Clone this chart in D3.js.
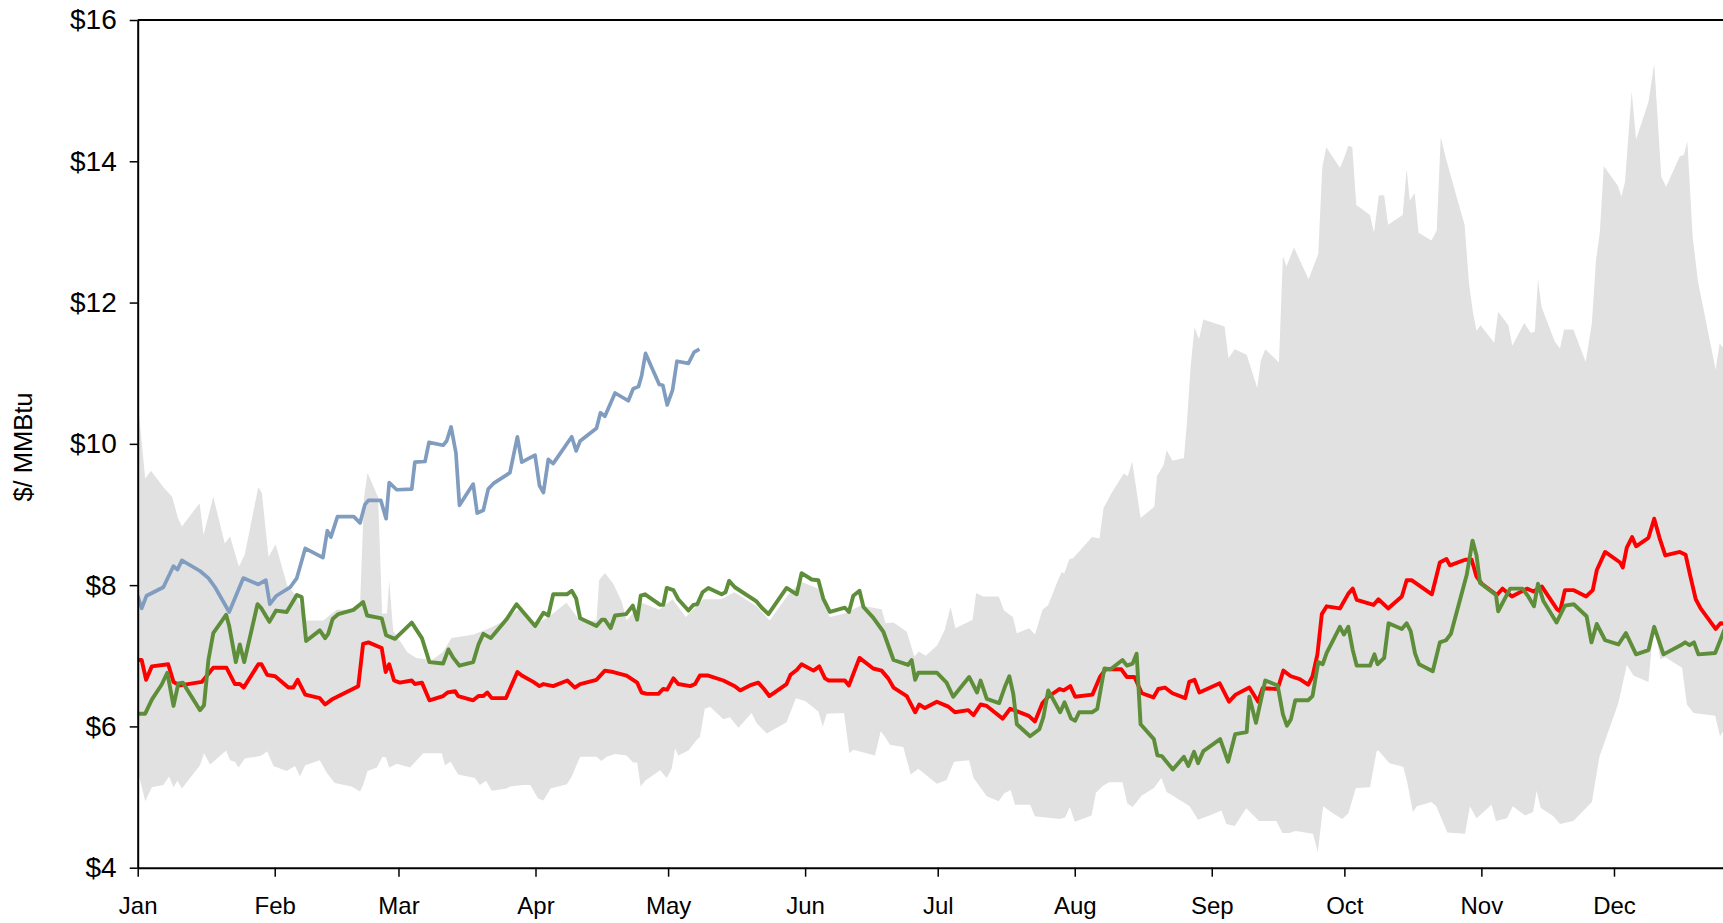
<!DOCTYPE html>
<html lang="en">
<head>
<meta charset="UTF-8">
<title>$/ MMBtu</title>
<script src="https://cdnjs.cloudflare.com/ajax/libs/d3/7.8.5/d3.min.js"></script>
<style>
    body { margin: 0; padding: 0; background: #ffffff; overflow: hidden; }
    #chart { width: 1723px; height: 923px; }
    text { font-family: "Liberation Sans", Arial, sans-serif; fill: #000; }
</style>
</head>
<body>
<div id="chart"></div>
<script>
// month ticks (day of year of each month start)
const monthNames = ["Jan", "Feb", "Mar", "Apr", "May", "Jun", "Jul", "Aug", "Sep", "Oct", "Nov", "Dec"];
const monthDays = [0, 31, 59, 90, 120, 151, 181, 212, 243, 273, 304, 334];
const yTicks = [4, 6, 8, 10, 12, 14, 16];

// historical range, upper edge [day, $]
const rangeHigh = [[0,10.6],[1.7,9.51],[3,9.62],[6,9.37],[7.8,9.25],[9.1,8.95],[10,8.83],[14,9.16],[14.9,8.71],[17.1,9.25],
  [19.7,8.59],[20.9,8.69],[22.9,8.26],[24.2,8.43],[27.3,9.39],[28.1,9.3],[29.6,8.4],[31.2,8.58],[33.8,8.0],[36,7.84],
  [38,7.5],[42,7.5],[45,7.65],[48,7.65],[50.3,7.7],[51.2,9.24],[52,9.59],[54.4,9.24],[55.3,7.6],[56.4,7.6],[56.9,8.07],
  [57.8,7.35],[58.9,7.25],[61,7.05],[63,6.97],[66.6,6.94],[69,7.05],[71,7.25],[74,7.28],[76,7.3],[78,7.35],[80,7.4],
  [83,7.5],[86,7.65],[90,7.45],[93,7.55],[97,7.75],[100,7.5],[103.8,7.5],[104.4,8.07],[105.7,8.17],[107.6,8.02],[109.5,7.77],
  [110.6,7.5],[114,7.75],[118,7.65],[121,7.8],[124,7.55],[128,7.8],[132,7.8],[135,7.9],[140,7.7],[143,7.5],[147,7.85],
  [150,8.05],[154,7.95],[156.6,7.55],[160,7.6],[163.6,7.71],[168.3,7.66],[169.2,7.46],[171,7.47],[174,7.34],[175.7,6.99],
  [176.7,7.06],[178.3,7.0],[180.9,7.15],[182.6,7.37],[183.9,7.69],[185,7.39],[188.9,7.51],[189.7,7.89],[191.3,7.84],
  [194.8,7.84],[196,7.64],[198,7.55],[198.9,7.32],[201.7,7.39],[203,7.3],[204.7,7.65],[206,7.72],[208.2,8.07],[209.1,8.19],
  [209.6,8.16],[210.8,8.37],[211.6,8.38],[212.9,8.47],[215.9,8.68],[217.6,8.66],[218.5,9.09],[220.3,9.3],[223.1,9.58],
  [224,9.54],[225,9.75],[226.9,8.95],[230,9.11],[230.6,9.54],[232.1,9.7],[232.8,9.91],[234.1,9.76],[236.7,9.8],[237.4,10.31],
  [238.2,11.08],[239.1,11.65],[240.1,11.48],[241.1,11.76],[245.9,11.66],[246.8,11.21],[248.2,11.34],[250.9,11.26],
  [253.3,10.79],[254.1,11.18],[255.1,11.34],[258.2,11.15],[259.1,12.66],[259.9,12.51],[261.6,12.78],[264.9,12.33],
  [267.1,12.69],[268,13.91],[268.9,14.2],[272,13.91],[272.9,14.04],[273.9,14.22],[274.8,14.2],[275.7,13.38],[278.8,13.24],
  [279.7,12.99],[280.8,13.52],[282,13.52],[282.9,13.1],[286.2,13.24],[287.1,13.89],[287.8,13.44],[288.9,13.55],[289.8,12.99],
  [292.7,12.88],[293.9,13.02],[294.8,14.34],[295.9,14.06],[298.2,13.54],[300.2,13.1],[301.2,12.27],[302.1,11.86],
  [302.9,11.6],[303.8,11.68],[306.9,11.43],[307.8,11.87],[310.1,11.68],[311,11.39],[313.7,11.71],[315.2,11.57],[316.1,11.59],
  [316.8,12.33],[317.6,11.94],[320.6,11.45],[321.8,11.35],[322.7,11.62],[324.8,11.62],[327.6,11.16],[329,11.71],
  [329.9,12.58],[330.8,13.0],[331.7,13.93],[334.8,13.66],[335.7,13.5],[336.5,13.71],[338,14.99],[339,14.31],[341.8,14.84],
  [343.1,15.38],[344.7,13.78],[345.8,13.64],[348.9,14.07],[349.8,14.09],[350.6,14.28],[351.8,12.93],[353,12.3],
  [357,11.05],[357.9,11.42],[359.5,11.3]];

// historical range, lower edge [day, $]
const rangeLow = [[0,5.38],[1.7,4.94],[3.2,5.14],[5.8,5.17],[7.1,5.29],[8.1,5.14],[9,5.23],[10,5.12],[14.1,5.45],[15,5.62],
  [16.4,5.46],[20,5.66],[20.9,5.52],[22,5.5],[22.8,5.42],[24.3,5.55],[26.9,5.57],[28,5.59],[29.3,5.65],[30.7,5.44],
  [33.7,5.37],[35.6,5.44],[36.7,5.29],[37.9,5.45],[41.2,5.52],[42.8,5.34],[44.6,5.2],[48.4,5.15],[50.3,5.08],[51,5.17],
  [52,5.37],[54.1,5.42],[55.4,5.57],[56.2,5.56],[56.9,5.42],[58.6,5.47],[61.6,5.42],[64.6,5.62],[66.5,5.62],[68.8,5.62],
  [69.5,5.45],[70.8,5.5],[72.5,5.32],[76.3,5.27],[77.4,5.17],[78.8,5.23],[80.1,5.09],[83.5,5.12],[84.2,5.15],[87.2,5.17],
  [88.8,5.17],[90.6,4.98],[91.8,4.95],[93.4,5.12],[97.1,5.18],[98.2,5.29],[99.2,5.44],[100.1,5.57],[103.8,5.57],[104.9,5.51],
  [106.1,5.57],[108,5.61],[110.6,5.59],[112.1,5.49],[113,5.49],[113.8,5.15],[114.8,5.23],[118.2,5.38],[119.7,5.27],
  [120.8,5.4],[121.6,5.69],[122.3,5.59],[124.6,5.66],[126.5,5.81],[127.2,5.85],[128.3,6.25],[129.5,6.28],[132.5,6.1],
  [134,6.13],[135.9,5.98],[138.9,6.19],[140,6.05],[142.3,5.9],[146.8,6.06],[148.9,6.4],[151,6.36],[154,6.21],[155,6.0],
  [155.9,6.18],[159.8,6.19],[161,5.62],[161.9,5.67],[166.8,5.59],[168.1,5.93],[169.1,5.85],[170.2,5.74],[173.2,5.71],
  [174.9,5.32],[176.6,5.4],[180.8,5.19],[183,5.24],[184.7,5.5],[188.1,5.52],[189.1,5.27],[192.1,5.01],[194.8,4.94],
  [196,5.05],[197.5,5.1],[198.5,4.89],[201.9,4.89],[203,4.73],[208.6,4.69],[209.8,4.71],[210.9,4.86],[212,4.65],
  [215.8,4.74],[216.8,5.06],[218.4,5.16],[219.8,5.21],[222.8,5.21],[223.9,4.91],[225.1,4.86],[226,4.93],[227.1,5.02],
  [229.9,5.13],[231.6,5.27],[232.8,5.07],[236.5,4.93],[238,4.87],[239.9,4.68],[242.9,4.75],[245.2,4.81],[246.3,4.62],
  [248.2,4.59],[250.8,4.84],[253.7,4.66],[257.6,4.66],[259,4.49],[260.5,4.49],[262,4.52],[264.8,4.49],[265.9,4.48],
  [267,4.22],[268.2,4.87],[270.4,4.77],[272.5,4.69],[273.9,4.77],[275.6,5.13],[278.8,5.14],[280.3,5.65],[280.7,5.66],
  [283.2,5.48],[286.3,5.43],[287.2,5.22],[288.5,4.79],[289.4,4.87],[292.7,4.93],[293.8,4.87],[296.3,4.5],[300.3,4.48],
  [301.4,4.87],[302.9,4.7],[306.3,4.89],[307.3,4.66],[309.8,4.7],[311.1,4.87],[313.9,4.74],[315.7,4.79],[316.5,5.09],
  [317.4,4.85],[320.3,4.73],[321.8,4.62],[324.8,4.66],[329,4.93],[330.7,5.57],[335,6.33],[336.9,6.87],[338.4,6.72],
  [341.8,6.63],[342.5,7.11],[343.1,7.41],[344.5,6.95],[345.6,6.98],[349.4,6.83],[350.5,6.31],[352,6.19],[356.9,6.15],
  [358,5.86],[359.5,6.02]];

// red line [day, $]
const redSeries = [[0,6.94],[0.9,6.94],[1.9,6.66],[3.2,6.85],[6.9,6.88],[8.1,6.63],[9.6,6.58],[14.5,6.63],[17.1,6.83],
  [20.1,6.83],[22,6.6],[23.1,6.6],[24,6.55],[27.3,6.88],[28,6.88],[29.3,6.73],[31.1,6.71],[34.1,6.55],[35.2,6.55],[36.2,6.66],
  [37.9,6.45],[41.2,6.4],[42.4,6.31],[43.9,6.38],[49.9,6.57],[51,7.17],[52.2,7.19],[55.2,7.11],[56.1,6.77],[56.9,6.88],
  [58,6.65],[59.3,6.62],[62,6.65],[62.7,6.6],[64.3,6.62],[66,6.37],[69.1,6.43],[70.1,6.48],[71.8,6.5],[72.5,6.43],
  [75.9,6.37],[77.1,6.43],[78.2,6.43],[79.1,6.48],[80.1,6.4],[83.3,6.4],[85.9,6.77],[86.9,6.72],[89.5,6.63],[90.9,6.57],
  [91.8,6.6],[94,6.57],[97.2,6.65],[98.9,6.55],[100.1,6.6],[103.8,6.66],[105.7,6.79],[107.6,6.77],[110.6,6.72],[113,6.62],
  [114,6.48],[115.2,6.46],[117.8,6.46],[118.9,6.53],[119.8,6.52],[121.2,6.68],[122.3,6.6],[125,6.57],[126.1,6.6],
  [127.2,6.72],[129.1,6.72],[132.5,6.65],[135.1,6.57],[136.3,6.51],[138.5,6.58],[140.4,6.62],[141.7,6.53],[142.9,6.43],
  [146.8,6.6],[147.7,6.73],[149.1,6.8],[150.2,6.88],[152.9,6.79],[154.2,6.85],[155.5,6.68],[156.3,6.65],[160,6.65],
  [160.9,6.58],[163.3,6.97],[166.4,6.82],[168.3,6.79],[169.8,6.68],[171,6.55],[174,6.43],[175.9,6.2],[176.8,6.31],
  [178.1,6.26],[180.8,6.35],[183.4,6.28],[184.9,6.2],[187.9,6.23],[189.1,6.16],[190.7,6.31],[192.1,6.29],[194.3,6.18],
  [195.7,6.11],[197.4,6.25],[201.6,6.15],[203,6.07],[204.7,6.33],[206,6.42],[208.6,6.53],[209.5,6.51],[211,6.57],
  [212.1,6.42],[216,6.45],[217.7,6.7],[219,6.81],[222.5,6.81],[223.8,6.7],[225.5,6.7],[227.2,6.47],[229.8,6.41],
  [230.9,6.53],[232.4,6.55],[234.1,6.47],[237,6.4],[237.9,6.63],[239.1,6.66],[240.2,6.48],[244.8,6.61],[246.9,6.35],
  [248.4,6.45],[251.5,6.55],[253.5,6.35],[254.5,6.54],[257.9,6.53],[259.2,6.79],[260.9,6.71],[262.9,6.67],[264.8,6.59],
  [265.8,6.71],[266.9,7.02],[267.9,7.59],[269,7.7],[272,7.67],[273.9,7.88],[274.9,7.95],[275.8,7.79],[279.6,7.72],
  [280.7,7.8],[282.9,7.67],[286,7.84],[287.1,8.07],[288.2,8.07],[292.8,7.87],[294.6,8.32],[296.1,8.37],[296.9,8.28],
  [300.3,8.36],[301.8,8.36],[302.9,8.12],[304.1,8.02],[307.5,7.86],[308.8,7.95],[310.9,7.84],[314.3,7.95],[315.8,7.91],
  [317.7,7.98],[321.1,7.66],[321.8,7.63],[322.9,7.93],[324.8,7.93],[327.7,7.84],[329.2,7.93],[330.1,8.21],[332,8.47],
  [335.4,8.32],[336,8.25],[336.9,8.53],[338.1,8.68],[339,8.55],[341.8,8.67],[343.1,8.94],[344.3,8.67],[345.6,8.42],
  [348.9,8.47],[350.2,8.43],[351.3,8.12],[352.5,7.8],[353.6,7.67],[357,7.38],[358.1,7.46],[359.5,7.45]];

// green line [day, $]
const greenSeries = [[0,6.18],[1.7,6.18],[3.2,6.38],[5.4,6.59],[6.7,6.76],[8.1,6.29],[9.2,6.61],[10.2,6.62],[14.1,6.23],
  [15,6.3],[16,6.94],[17.1,7.32],[20,7.58],[20.7,7.42],[22.2,6.91],[23.1,7.16],[24.1,6.91],[27.1,7.73],[28,7.67],
  [29.8,7.48],[31.3,7.64],[33.7,7.62],[36,7.86],[37.1,7.83],[38.1,7.21],[41.2,7.36],[42.4,7.25],[43.1,7.31],[44.1,7.52],
  [45.4,7.59],[48.8,7.65],[51,7.76],[51.9,7.57],[55.2,7.53],[56.2,7.29],[58.2,7.24],[62,7.47],[64.3,7.25],[66,6.91],
  [69.1,6.89],[70.3,7.09],[71.4,6.97],[72.8,6.86],[75.9,6.91],[77.1,7.16],[78.2,7.31],[79.9,7.25],[83.5,7.52],[85.7,7.73],
  [89.9,7.42],[91.8,7.61],[92.9,7.57],[94,7.87],[97.1,7.87],[98.2,7.92],[99.2,7.81],[100.1,7.53],[103.8,7.42],[105,7.51],
  [105.7,7.51],[107,7.39],[108,7.57],[110.5,7.59],[112,7.71],[113,7.51],[113.8,7.85],[114.8,7.87],[118.2,7.72],[118.9,7.72],
  [119.7,7.96],[121.2,7.93],[122.3,7.8],[124.6,7.64],[125.7,7.72],[126.6,7.73],[127.8,7.9],[129.1,7.96],[132.1,7.87],
  [133,7.9],[133.8,8.06],[135.1,7.97],[140,7.77],[141.2,7.68],[142.7,7.59],[146.8,7.96],[149.1,7.87],[150.2,8.17],
  [152.5,8.08],[154,8.07],[155.1,7.81],[156.6,7.62],[160,7.68],[160.9,7.62],[161.9,7.85],[163.3,7.92],[164.2,7.69],
  [166.4,7.54],[168.7,7.34],[171,6.94],[174.3,6.87],[175.1,6.94],[175.9,6.66],[176.6,6.76],[180.8,6.76],[183,6.62],
  [184.5,6.42],[188.1,6.7],[189.9,6.48],[190.7,6.65],[192.1,6.39],[194.9,6.33],[196.2,6.56],[197.2,6.71],[198.1,6.46],
  [198.9,6.03],[201.9,5.86],[204,5.96],[204.9,6.13],[206,6.51],[208.7,6.2],[209.7,6.34],[211.2,6.11],[212.1,6.08],
  [213,6.2],[215.9,6.2],[217.1,6.25],[218.7,6.82],[220.1,6.81],[222.8,6.94],[223.8,6.86],[225.1,6.89],[226,7.03],
  [226.9,6.03],[229.9,5.82],[230.7,5.59],[231.7,5.58],[234.2,5.39],[236.7,5.57],[237.7,5.44],[239,5.64],[239.9,5.48],
  [241.1,5.65],[244.9,5.82],[246.7,5.5],[248.3,5.89],[250.9,5.92],[251.5,6.42],[253,6.05],[255.1,6.65],[257.9,6.58],
  [259.1,6.17],[260,6.01],[260.9,6.1],[261.9,6.37],[264.8,6.37],[265.8,6.43],[267.1,6.91],[268.1,6.88],[269,7.04],
  [272,7.41],[272.9,7.3],[273.9,7.41],[274.9,7.08],[275.8,6.86],[278.8,6.86],[279.8,7.02],[280.5,6.88],[282,6.97],
  [283,7.46],[286,7.38],[287.1,7.46],[288,7.35],[289,7.03],[289.9,6.88],[293,6.78],[294.6,7.19],[296,7.22],[297.1,7.31],
  [300.7,8.15],[302,8.63],[302.9,8.42],[303.7,8.03],[307.3,7.86],[307.8,7.63],[310.5,7.95],[313.3,7.95],[314.6,7.84],
  [315.9,7.7],[316.8,8.02],[318,7.78],[321,7.47],[322.9,7.71],[324.9,7.73],[327.8,7.56],[328.9,7.19],[330.1,7.45],
  [332,7.22],[335,7.16],[336.7,7.32],[339,7.02],[341.8,7.08],[343.1,7.41],[345.2,7.02],[349.4,7.16],[350.1,7.19],
  [351.1,7.15],[352.1,7.19],[353.1,7.02],[356.9,7.04],[357.6,7.15],[359.5,7.45]];

// blue line (current year, to early May) [day, $]
const blueSeries = [[0,7.85],[0.9,7.67],[2,7.85],[5.8,7.97],[8.1,8.27],[9,8.22],[10,8.35],[14.1,8.2],[16,8.1],[17.5,7.97],
  [20.7,7.62],[23.9,8.1],[27.3,8.01],[29,8.07],[29.9,7.73],[31.4,7.85],[34.5,7.97],[36,8.1],[37.9,8.52],[41.9,8.39],
  [42.9,8.77],[43.7,8.68],[45.2,8.97],[48.9,8.97],[50.3,8.88],[51.4,9.14],[52.2,9.2],[55,9.2],[56.2,8.94],[56.9,9.45],
  [58.6,9.35],[62,9.36],[62.7,9.74],[65,9.75],[65.9,10.02],[69.1,9.98],[69.9,10.04],[70.9,10.24],[72,9.87],[72.8,9.13],
  [75.9,9.43],[76.8,9.02],[78.2,9.06],[79.3,9.36],[80.5,9.44],[84.2,9.59],[85.9,10.1],[86.9,9.74],[89.9,9.84],[90.9,9.41],
  [91.8,9.31],[92.9,9.78],[94,9.72],[98.2,10.1],[99.2,9.9],[100.1,10.04],[103.8,10.22],[104.7,10.44],[105.7,10.39],
  [108,10.72],[111,10.61],[112.1,10.78],[113.3,10.81],[114,10.96],[114.9,11.28],[118,10.84],[118.8,10.83],[119.8,10.55],
  [121,10.76],[122,11.17],[124.6,11.14],[125.9,11.3],[127.1,11.34]];

const width = 1723, height = 923;
const plotLeft = 137.7, plotTop = 20, plotBottom = 867.7;
const pxPerDay = 4.42;

const svg = d3.select("#chart").append("svg")
    .attr("width", width)
    .attr("height", height);

const x = d3.scaleLinear().domain([0, 365]).range([plotLeft, plotLeft + 365 * pxPerDay]);
const y = d3.scaleLinear().domain([4, 16]).range([plotBottom, plotTop]);

svg.append("defs").append("clipPath").attr("id", "plot-clip")
    .append("rect")
    .attr("x", plotLeft).attr("y", plotTop)
    .attr("width", x(365) - plotLeft).attr("height", plotBottom - plotTop);

const plot = svg.append("g").attr("clip-path", "url(#plot-clip)");

// range band: upper edge forward, lower edge back
const line = d3.line().x(d => x(d[0])).y(d => y(d[1]));
plot.append("path")
    .attr("d", line(rangeHigh.concat(rangeLow.slice().reverse())) + "Z")
    .attr("fill", "#e1e1e1")
    .attr("stroke", "none");

plot.append("path")
    .datum(redSeries)
    .attr("d", line)
    .attr("fill", "none")
    .attr("stroke", "#ff0000")
    .attr("stroke-width", 3.9)
    .attr("stroke-linejoin", "round");

plot.append("path")
    .datum(greenSeries)
    .attr("d", line)
    .attr("fill", "none")
    .attr("stroke", "#5e8e3a")
    .attr("stroke-width", 3.9)
    .attr("stroke-linejoin", "round");

plot.append("path")
    .datum(blueSeries)
    .attr("d", line)
    .attr("fill", "none")
    .attr("stroke", "#809cbf")
    .attr("stroke-width", 3.7)
    .attr("stroke-linejoin", "round");

// top border of the plot area
svg.append("line")
    .attr("x1", plotLeft).attr("x2", x(365))
    .attr("y1", plotTop).attr("y2", plotTop)
    .attr("stroke", "#000")
    .attr("stroke-width", 2);

// axes
const yAxis = svg.append("g")
    .attr("transform", `translate(${plotLeft},0)`)
    .call(d3.axisLeft(y).tickValues(yTicks).tickSize(8).tickSizeOuter(0).tickPadding(13)
        .tickFormat(d => "$" + d));

const xAxis = svg.append("g")
    .attr("transform", `translate(0,${plotBottom})`)
    .call(d3.axisBottom(x).tickValues(monthDays).tickSize(9).tickSizeOuter(0).tickPadding(20)
        .tickFormat((d, i) => monthNames[i]));

[yAxis, xAxis].forEach(ax => {
    ax.select(".domain").attr("stroke", "#000").attr("stroke-width", 2);
    ax.selectAll(".tick line").attr("stroke", "#000").attr("stroke-width", 1.5);
    ax.selectAll("text").attr("font-family", "'Liberation Sans', Arial, sans-serif").attr("fill", "#000");
});
yAxis.selectAll("text").attr("font-size", "28px");
xAxis.selectAll("text").attr("font-size", "24px");

svg.append("text")
    .attr("transform", "translate(32,447) rotate(-90)")
    .attr("text-anchor", "middle")
    .attr("font-size", "25.5px")
    .text("$/ MMBtu");
</script>
</body>
</html>
